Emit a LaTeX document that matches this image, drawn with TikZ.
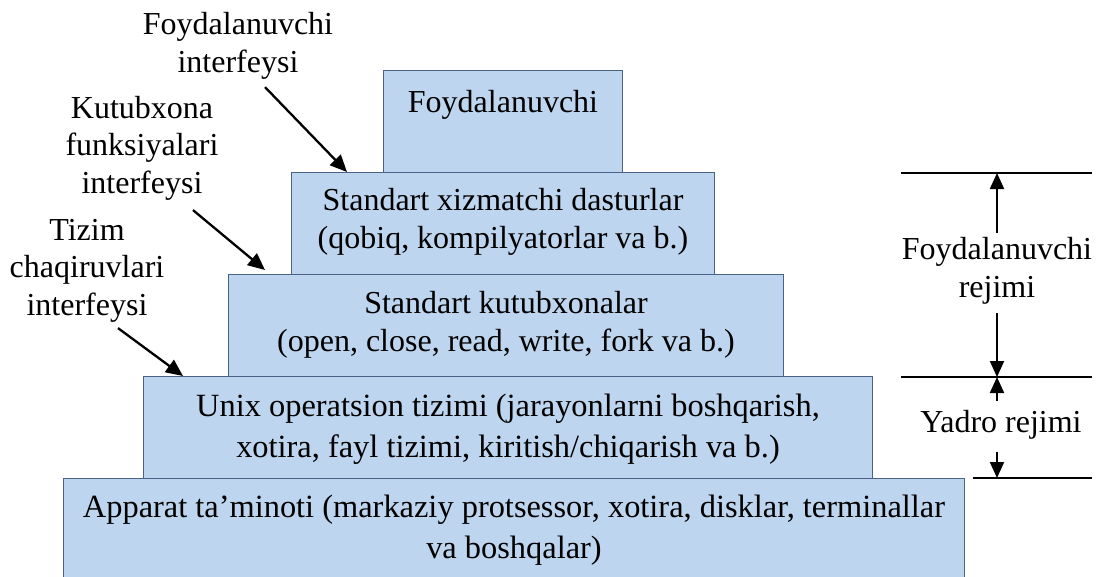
\documentclass[tikz,border=0pt]{standalone}
\usepackage{fontspec}
\setmainfont{Liberation Serif}
\usetikzlibrary{arrows.meta}

\definecolor{layerfill}{HTML}{BDD5EE}
\definecolor{layerline}{HTML}{4A6285}

\begin{document}
\begin{tikzpicture}[x=1pt, y=-1pt,
	layer/.style={draw=layerline, fill=layerfill, line width=1pt, inner sep=0pt, anchor=north west},
	txt/.style={align=center, inner sep=0pt, anchor=base, font=\fontsize{32}{37.5}\selectfont},
	bigtxt/.style={txt, font=\fontsize{32.4}{41}\selectfont},
	arr/.style={-{Triangle[length=17pt,width=15pt]}, line width=2.3pt},
	tick/.style={-{Triangle[length=16pt,width=14pt]}, line width=2pt}]
	\useasboundingbox (0,0) rectangle (1102,576);
	\clip (0,0) rectangle (1102,576);

	% Layers, from top to bottom
	\node[layer, minimum width=239pt, minimum height=102pt] (user) at (383,70) {};
	\node[layer, minimum width=423pt, minimum height=102pt] (util) at (291,172) {};
	\node[layer, minimum width=555pt, minimum height=102pt] (lib) at (228,274) {};
	\node[layer, minimum width=729pt, minimum height=102pt] (kern) at (143,376) {};
	\node[layer, minimum width=901pt, minimum height=130pt] (hw) at (63,478) {};

	% Layer texts (base = last line)
	\node[txt] (user-t) at ([yshift=-42pt]user.north) {Foydalanuvchi};
	\node[txt] (util-t) at ([yshift=-76pt]util.north) {Standart xizmatchi dasturlar\\(qobiq, kompilyatorlar va b.)};
	\node[txt] (lib-t) at ([yshift=-77pt]lib.north) {Standart kutubxonalar\\(open, close, read, write, fork va b.)};
	\node[bigtxt] (kern-t) at ([yshift=-81pt]kern.north) {Unix operatsion tizimi (jarayonlarni boshqarish,\\xotira, fayl tizimi, kiritish/chiqarish va b.)};
	\node[bigtxt] (hw-t) at ([yshift=-80pt]hw.north) {Apparat ta’minoti (markaziy protsessor, xotira, disklar, terminallar\\va boshqalar)};

	% Interface labels
	\node[txt] (fi) at (238,72) {Foydalanuvchi\\interfeysi};
	\node[txt] (kf) at (142,193) {Kutubxona\\funksiyalari\\interfeysi};
	\node[txt] (tz) at (87,315) {Tizim\\chaqiruvlari\\interfeysi};

	\coordinate (fi-tip) at (347,172);
	\coordinate (kf-tip) at (265,270);
	\coordinate (tz-tip) at (183,376);

	\draw[arr] ([shift={(27,8)}]fi.south) -- (fi-tip);
	\draw[arr] ([shift={(51,10)}]kf.south) -- (kf-tip);
	\draw[arr] ([shift={(31,6)}]tz.south) -- (tz-tip);

	% Mode boundaries
	\coordinate (b1l) at (901,173);
	\coordinate (b1r) at (1092,173);
	\coordinate (b2l) at (901,377);
	\coordinate (b2r) at (1092,377);
	\coordinate (b3l) at (973,478);
	\coordinate (b3r) at (1092,478);
	\draw[line width=1.2pt] (b1l) -- (b1r);
	\draw[line width=1.2pt] (b2l) -- (b2r);
	\draw[line width=1.2pt] (b3l) -- (b3r);

	% Mode labels
	\node[txt] (fr) at (997,297) {Foydalanuvchi\\rejimi};
	\node[txt] (yr) at (1001,432) {Yadro rejimi};

	\draw[tick, shorten <=4pt] (fr.north) -- (fr.north |- b1l);
	\draw[tick, shorten <=9pt] (fr.south) -- (fr.south |- b2l);
	\draw[tick, shorten <=9pt] (yr.north -| fr) -- (b2l -| fr);
	\draw[tick, shorten <=13pt] (yr.south -| fr) -- (b3l -| fr);
\end{tikzpicture}
\end{document}
